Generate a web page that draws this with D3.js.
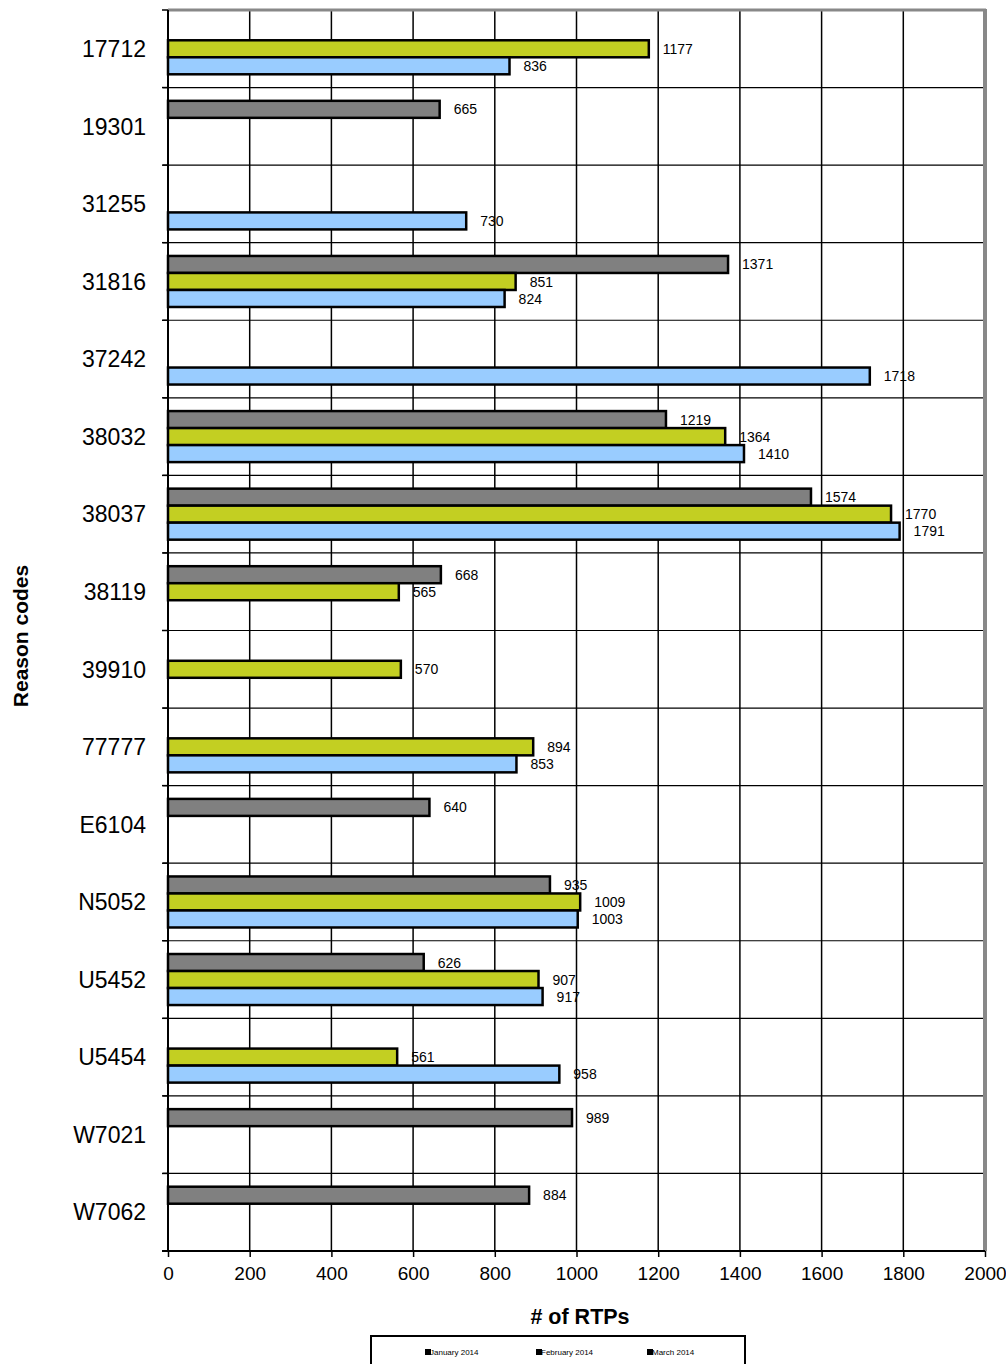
<!DOCTYPE html>
<html>
<head>
<meta charset="utf-8">
<script src="https://cdn.jsdelivr.net/npm/d3@7"></script>
<style>
  body { margin: 0; background: #fff; }
  svg { display: block; font-family: "Liberation Sans", Arial, sans-serif; }
</style>
</head>
<body>
<svg id="chart" width="1006" height="1364"></svg>
<script>
// reason codes, top to bottom
var codes = ["17712", "19301", "31255", "31816", "37242", "38032", "38037", "38119",
             "39910", "77777", "E6104", "N5052", "U5452", "U5454", "W7021", "W7062"];
// null = no bar for that month
var jan2014 = [836, null, 730, 824, 1718, 1410, 1791, null, null, 853, null, 1003, 917, 958, null, null];
var feb2014 = [1177, null, null, 851, null, 1364, 1770, 565, 570, 894, null, 1009, 907, 561, null, null];
var mar2014 = [null, 665, null, 1371, null, 1219, 1574, 668, null, null, 640, 935, 626, null, 989, 884];
var months = ["January 2014", "February 2014", "March 2014"];
var xTicks = [0, 200, 400, 600, 800, 1000, 1200, 1400, 1600, 1800, 2000];

var colors = { "January 2014": "#99ccff", "February 2014": "#c3cf22", "March 2014": "#808080" };
var seriesVals = { "January 2014": jan2014, "February 2014": feb2014, "March 2014": mar2014 };
// drawing order inside a band: March on top, January at the bottom
var slotOrder = ["March 2014", "February 2014", "January 2014"];

// plot box (window.top is read-only, so other names)
var pL = 168, pR = 985, pT = 10, pB = 1251;
var svg = d3.select("#chart");

var x = d3.scaleLinear().domain([0, 2000]).range([pL, pR]);
var y = d3.scaleBand().domain(codes).range([pT, pB]);
var slot = d3.scaleBand().domain(slotOrder).range([0, y.bandwidth()]).paddingOuter(0.78).paddingInner(0);

// vertical grid
svg.append("g").selectAll("line")
  .data(xTicks.slice(1, -1))
  .enter().append("line")
  .attr("x1", function(d) { return x(d); }).attr("x2", function(d) { return x(d); })
  .attr("y1", pT).attr("y2", pB)
  .attr("stroke", "#000").attr("stroke-width", 1.5);

// horizontal grid at band edges
svg.append("g").selectAll("line")
  .data(codes.slice(1))
  .enter().append("line")
  .attr("x1", pL - 5).attr("x2", pR)
  .attr("y1", function(d) { return y(d); }).attr("y2", function(d) { return y(d); })
  .attr("stroke", "#000").attr("stroke-width", 1.2);

// gray frame top / right
svg.append("line").attr("x1", pL).attr("x2", pR + 1).attr("y1", pT).attr("y2", pT)
  .attr("stroke", "#888").attr("stroke-width", 3);
svg.append("line").attr("x1", pR).attr("x2", pR).attr("y1", pT - 1).attr("y2", pB)
  .attr("stroke", "#888").attr("stroke-width", 4);

// bars
var bars = [];
slotOrder.forEach(function(m) {
  seriesVals[m].forEach(function(v, i) {
    if (v != null) bars.push({ code: codes[i], month: m, value: v });
  });
});

var g = svg.append("g");
g.selectAll("rect")
  .data(bars)
  .enter().append("rect")
  .attr("x", x(0))
  .attr("y", function(d) { return y(d.code) + slot(d.month); })
  .attr("width", function(d) { return x(d.value) - x(0); })
  .attr("height", slot.bandwidth())
  .attr("fill", function(d) { return colors[d.month]; })
  .attr("stroke", "#000").attr("stroke-width", 2.5);

g.selectAll("text")
  .data(bars)
  .enter().append("text")
  .attr("x", function(d) { return x(d.value) + 14; })
  .attr("y", function(d) { return y(d.code) + slot(d.month) + slot.bandwidth() / 2; })
  .attr("dy", "0.36em")
  .attr("font-size", 14)
  .attr("fill", "#000")
  .text(function(d) { return d.value; });

// left axis
var yAxis = svg.append("g");
yAxis.append("line").attr("x1", pL).attr("x2", pL).attr("y1", pT).attr("y2", pB + 1)
  .attr("stroke", "#000").attr("stroke-width", 2);
yAxis.selectAll("line.tk")
  .data(codes.concat(["end"]))
  .enter().append("line").attr("class", "tk")
  .attr("x1", pL - 6).attr("x2", pL)
  .attr("y1", function(d, i) { return i < codes.length ? y(d) : pB; })
  .attr("y2", function(d, i) { return i < codes.length ? y(d) : pB; })
  .attr("stroke", "#000").attr("stroke-width", 1.5);
yAxis.selectAll("text")
  .data(codes)
  .enter().append("text")
  .attr("x", 146)
  .attr("y", function(d) { return y(d) + y.bandwidth() / 2; })
  .attr("dy", "0.36em")
  .attr("text-anchor", "end")
  .attr("font-size", 23)
  .text(function(d) { return d; });

// bottom axis
var xAxis = svg.append("g").attr("transform", "translate(0," + pB + ")")
  .call(d3.axisBottom(x).tickValues(xTicks).tickSize(6).tickPadding(10).tickFormat(d3.format("d")));
xAxis.select(".domain").attr("stroke-width", 2).attr("d", "M" + (pL - 6) + ",0H" + pR);
xAxis.selectAll(".tick line").attr("stroke-width", 1.5);
xAxis.selectAll(".tick text").attr("font-size", 19).attr("font-family", "Liberation Sans, Arial, sans-serif");

// axis titles
svg.append("text").attr("x", 580).attr("y", 1324)
  .attr("text-anchor", "middle").attr("font-size", 21.5).attr("font-weight", "bold")
  .text("# of RTPs");
svg.append("text")
  .attr("transform", "translate(28," + 636 + ") rotate(-90)")
  .attr("text-anchor", "middle").attr("font-size", 21).attr("font-weight", "bold")
  .text("Reason codes");

// legend (markers shown black as in the original)
var leg = svg.append("g");
leg.append("rect").attr("x", 371).attr("y", 1336).attr("width", 374).attr("height", 40)
  .attr("fill", "#fff").attr("stroke", "#000").attr("stroke-width", 2);
var legX = d3.scalePoint().domain(months).range([425, 647]);
var item = leg.selectAll("g.it").data(months).enter().append("g").attr("class", "it")
  .attr("transform", function(d) { return "translate(" + legX(d) + ",1352)"; });
item.append("rect").attr("x", 0).attr("y", -3).attr("width", 6).attr("height", 6)
  .attr("fill", "#000");
item.append("text").attr("x", 5).attr("y", 0).attr("dy", "0.35em")
  .attr("font-size", 8).text(function(d) { return d; });
</script>
</body>
</html>
